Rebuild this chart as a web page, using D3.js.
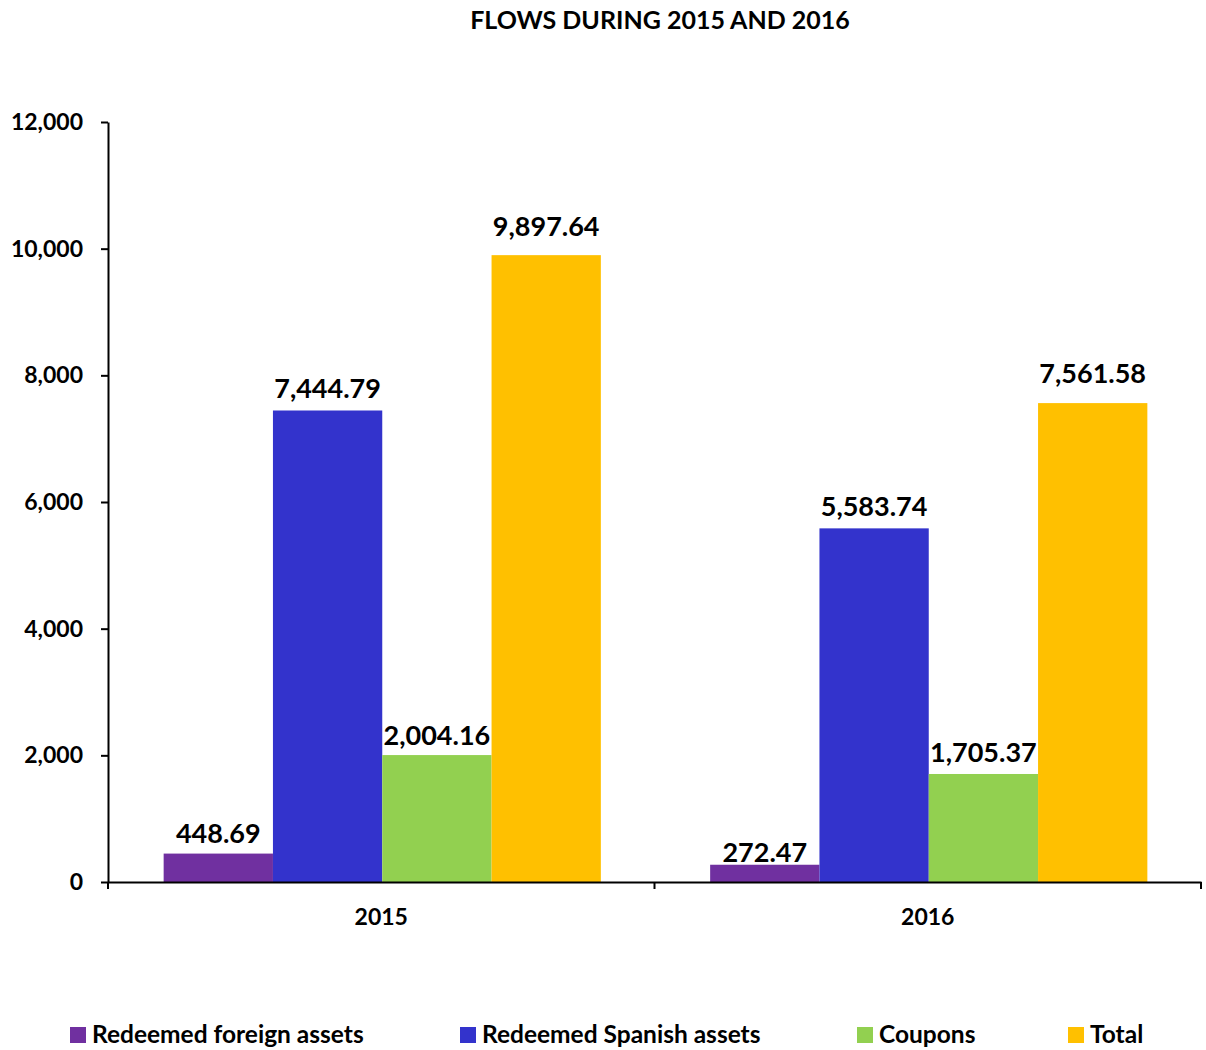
<!DOCTYPE html>
<html>
<head>
<meta charset="utf-8">
<script src="https://cdn.jsdelivr.net/npm/d3@7"></script>
<style>
  html, body { margin: 0; padding: 0; background: #fff; }
  svg text { font-family: Lato, "Open Sans", sans-serif; font-weight: bold; fill: #000; }
</style>
</head>
<body>
<svg id="chart" width="1206" height="1050"></svg>
<script>
const years = ["2015", "2016"];
const seriesNames = ["Redeemed foreign assets", "Redeemed Spanish assets", "Coupons", "Total"];
const seriesColors = ["#7030A0", "#3333CC", "#92D050", "#FFC000"];
const foreignAssets = [448.69, 272.47];
const spanishAssets = [7444.79, 5583.74];
const coupons = [2004.16, 1705.37];
const totals = [9897.64, 7561.58];
const yTicks = [0, 2000, 4000, 6000, 8000, 10000, 12000];

const seriesValues = [foreignAssets, spanishAssets, coupons, totals];

// layout
const plotLeft = 108, plotRight = 1201, plotTop = 122, plotBottom = 882;
// vertical gap between each value label baseline and its bar top, [year][series]
const labelLift = [[11, 12, 10, 19], [3, 12, 12, 20]];
const legendX = [70, 460, 857, 1068];

const svg = d3.select("#chart");

const x = d3.scaleBand().domain(years).range([plotLeft, plotRight]).paddingInner(0).paddingOuter(0);
const inner = d3.scaleBand().domain(seriesNames).range([0, x.bandwidth()]).paddingOuter(0.5).paddingInner(0);
const y = d3.scaleLinear().domain([0, 12000]).range([plotBottom, plotTop]);

// title
svg.append("text")
  .attr("x", 660).attr("y", 29)
  .attr("text-anchor", "middle")
  .style("font-size", "25px")
  .text("FLOWS DURING 2015 AND 2016");

// bars with value labels
years.forEach((yr, i) => {
  const g = svg.append("g").attr("transform", `translate(${x(yr) + 1},0)`);
  seriesNames.forEach((name, s) => {
    const v = seriesValues[s][i];
    g.append("rect")
      .attr("x", inner(name))
      .attr("y", y(v))
      .attr("width", inner.bandwidth())
      .attr("height", y(0) - y(v))
      .attr("fill", seriesColors[s]);
    g.append("text")
      .attr("x", inner(name) + inner.bandwidth() / 2)
      .attr("y", y(v) - labelLift[i][s])
      .attr("text-anchor", "middle")
      .style("font-size", "27px")
      .text(d3.format(",.2f")(v));
  });
});

// y axis
const yAxis = svg.append("g")
  .attr("transform", `translate(${plotLeft},0)`)
  .call(d3.axisLeft(y).tickValues(yTicks).tickFormat(d3.format(",")).tickSize(7).tickSizeOuter(0).tickPadding(18));
yAxis.select(".domain").attr("stroke", "#000").attr("stroke-width", 2);
yAxis.selectAll(".tick line").attr("stroke", "#000").attr("stroke-width", 2);
yAxis.selectAll(".tick text").style("font-size", "23px");

// x axis
const xAxis = svg.append("g")
  .attr("transform", `translate(0,${plotBottom})`)
  .call(d3.axisBottom(x).tickSize(0).tickPadding(27));
xAxis.select(".domain").attr("stroke", "#000").attr("stroke-width", 2);
xAxis.selectAll(".tick text").style("font-size", "23px");
const boundaries = [plotLeft, ...years.slice(1).map(d => x(d)), plotRight];
xAxis.selectAll(".boundary").data(boundaries).enter().append("line")
  .attr("class", "boundary")
  .attr("x1", d => d).attr("x2", d => d)
  .attr("y1", 0).attr("y2", 7)
  .attr("stroke", "#000").attr("stroke-width", 2);

// legend
const legend = svg.append("g").attr("transform", "translate(0,1027)");
seriesNames.forEach((name, s) => {
  legend.append("rect")
    .attr("x", legendX[s]).attr("y", 0)
    .attr("width", 16).attr("height", 16)
    .attr("fill", seriesColors[s]);
  legend.append("text")
    .attr("x", legendX[s] + 22).attr("y", 16)
    .style("font-size", "24.5px")
    .text(name);
});
</script>
</body>
</html>
